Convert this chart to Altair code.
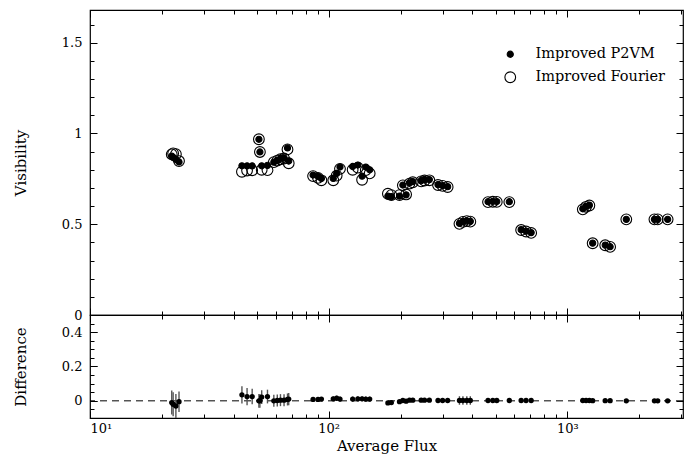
import altair as alt
import pandas as pd

# ---------------- data ----------------
flux = [22.0, 22.3, 22.9, 23.6,
        43.3, 45.5, 47.8, 51.0, 51.5, 52.4, 55.4, 58.9, 60.9, 62.8, 65.0, 67.2, 68.0,
        86.0, 90.2, 93.2,
        104.5, 108.0, 111.5, 126.0, 132.5, 138.0, 143.0, 148.5,
        177, 183, 198, 204.5, 211, 218, 225, 244, 252, 264,
        287, 300, 315,
        353, 365, 379, 392,
        465, 487, 506, 571,
        640, 671, 705,
        1160, 1197, 1236, 1276, 1440, 1510, 1765, 2315, 2390, 2630]
vis_p2vm = [0.875, 0.868, 0.857, 0.843,
            0.822, 0.821, 0.821, 0.968, 0.898, 0.822, 0.824, 0.842, 0.852, 0.862, 0.866, 0.920, 0.848,
            0.771, 0.764, 0.752,
            0.752, 0.780, 0.815, 0.818, 0.826, 0.765, 0.815, 0.800,
            0.655, 0.652, 0.655, 0.716, 0.662, 0.728, 0.735, 0.740, 0.745, 0.746,
            0.718, 0.713, 0.707,
            0.505, 0.515, 0.519, 0.516,
            0.624, 0.626, 0.625, 0.624,
            0.470, 0.462, 0.454,
            0.585, 0.598, 0.605, 0.396, 0.385, 0.376, 0.527, 0.527, 0.527, 0.527]
vis_fourier = [0.885, 0.890, 0.886, 0.848,
               0.789, 0.796, 0.797, 0.968, 0.898, 0.800, 0.798, 0.842, 0.850, 0.858, 0.862, 0.912, 0.836,
               0.765, 0.755, 0.742,
               0.742, 0.768, 0.805, 0.800, 0.812, 0.745, 0.798, 0.780,
               0.668, 0.660, 0.660, 0.714, 0.664, 0.724, 0.731, 0.736, 0.741, 0.742,
               0.716, 0.711, 0.705,
               0.502, 0.513, 0.517, 0.514,
               0.622, 0.624, 0.623, 0.622,
               0.468, 0.460, 0.452,
               0.582, 0.596, 0.603, 0.395, 0.384, 0.375, 0.527, 0.527, 0.527, 0.527]
diff = [-0.010, -0.020, -0.030, -0.005,
        0.035, 0.025, 0.025, 0.000, 0.000, 0.022, 0.025, 0.000, 0.002, 0.004, 0.004, 0.008, 0.010,
        0.008, 0.008, 0.010,
        0.012, 0.015, 0.010, 0.010, 0.012, 0.012, 0.010, 0.010,
        -0.012, -0.010, -0.005, 0.002, -0.002, 0.004, 0.004, 0.004, 0.004, 0.004,
        0.002, 0.002, 0.002,
        0.002, 0.002, 0.002, 0.002,
        0.002, 0.002, 0.002, 0.002,
        0.002, 0.002, 0.002,
        0.002, 0.002, 0.002, 0.001, 0.001, 0.001, 0.000, 0.000, 0.000, 0.000]
diff_err = [0.07, 0.07, 0.07, 0.06,
            0.05, 0.05, 0.045, 0.04, 0.04, 0.04, 0.04, 0.035, 0.035, 0.035, 0.035, 0.035, 0.035,
            0.012, 0.012, 0.012,
            0.015, 0.015, 0.015, 0.015, 0.015, 0.015, 0.015, 0.015,
            0.008, 0.008, 0.008, 0.008, 0.008, 0.008, 0.008, 0.008, 0.008, 0.008,
            0.006, 0.006, 0.006,
            0.025, 0.025, 0.025, 0.025,
            0.012, 0.012, 0.012, 0.008,
            0.006, 0.006, 0.006,
            0.005, 0.005, 0.005, 0.005, 0.005, 0.005, 0.005, 0.005, 0.005, 0.005]

series_names = ["Improved P2VM", "Improved Fourier"]
x_major = [10, 100, 1000]
x_major_labels = ["10¹", "10²", "10³"]
x_minor = [20, 30, 40, 50, 60, 70, 80, 90, 200, 300, 400, 500, 600, 700, 800, 900, 2000, 3000]
vis_major = [0, 0.5, 1, 1.5]
vis_minor = [0.1, 0.2, 0.3, 0.4, 0.6, 0.7, 0.8, 0.9, 1.1, 1.2, 1.3, 1.4, 1.6]
diff_major = [0, 0.2, 0.4]
diff_minor = [-0.05, 0.05, 0.1, 0.15, 0.25, 0.3, 0.35, 0.45]

# ---------------- tables ----------------
n = len(flux)
pts = pd.DataFrame({
    "flux": flux * 2,
    "vis": vis_fourier + vis_p2vm,
    "series": [series_names[1]] * n + [series_names[0]] * n,
    "idx": list(range(2 * n)),
})
dif = pd.DataFrame({
    "flux": flux,
    "diff": diff,
    "lo": [d - e for d, e in zip(diff, diff_err)],
    "hi": [d + e for d, e in zip(diff, diff_err)],
})
zero = pd.DataFrame({"d": [0.0]})

FONT = "DejaVu Serif"
MAJ, MIN = 7, 4
W = 593

xscale = alt.Scale(type="log", domain=[10, 3050], nice=False)
ytop = alt.Scale(domain=[0, 1.68], nice=False, zero=False)
ybot = alt.Scale(domain=[-0.1, 0.5], nice=False, zero=False)

label_expr = "''"
for v, s in reversed(list(zip(x_major, x_major_labels))):
    label_expr = f"datum.value == {v} ? '{s}' : ({label_expr})"


def ax(orient, values, size, **kw):
    opts = dict(orient=orient, values=values, tickSize=size, offset=-size,
                domain=False, grid=False, ticks=True, tickColor="black",
                tickWidth=1)
    if "labels" not in kw:
        opts["labels"] = False
    if "title" not in kw:
        opts["title"] = None
    opts.update(kw)
    return alt.Axis(**opts)


legend = alt.Legend(orient="none", legendX=413, legendY=37, title=None,
                    labelFont=FONT, labelFontSize=14.5, labelColor="black",
                    symbolStrokeWidth=1.1,
                    labelOffset=18, rowPadding=8, padding=0)

main = alt.Chart(pts).mark_point(strokeWidth=1.1, opacity=1).encode(
    x=alt.X("flux:Q", scale=xscale, axis=ax("bottom", x_major, MAJ)),
    y=alt.Y("vis:Q", scale=ytop,
            axis=ax("left", vis_major, MAJ, labels=True, format="~g",
                    labelPadding=8, title="Visibility", titlePadding=33)),
    fill=alt.Fill("series:N", scale=alt.Scale(domain=series_names, range=["black", "transparent"]),
                  legend=legend),
    stroke=alt.Stroke("series:N", scale=alt.Scale(domain=series_names, range=["black", "black"]),
                      legend=legend),
    size=alt.Size("series:N", scale=alt.Scale(domain=series_names, range=[38, 115]),
                  legend=legend),
    order=alt.Order("idx:Q"),
)


def axis_layer(data, xf, yf, yscale, xa, ya):
    return alt.Chart(data).mark_point(opacity=0).encode(
        x=alt.X(xf, scale=xscale, axis=xa),
        y=alt.Y(yf, scale=yscale, axis=ya),
    )


top = alt.layer(
    main,
    axis_layer(pts, "flux:Q", "vis:Q", ytop, ax("bottom", x_minor, MIN), ax("left", vis_minor, MIN)),
    axis_layer(pts, "flux:Q", "vis:Q", ytop, ax("top", x_major, MAJ), ax("right", vis_major, MAJ)),
    axis_layer(pts, "flux:Q", "vis:Q", ytop, ax("top", x_minor, MIN), ax("right", vis_minor, MIN)),
).resolve_axis(x="independent", y="independent").properties(width=W, height=305)

zero_rule = alt.Chart(zero).mark_rule(color="black", strokeWidth=1, strokeDash=[7, 5]).encode(
    y=alt.Y("d:Q", scale=ybot,
            axis=ax("left", diff_major, MAJ, labels=True, format="~g",
                    labelPadding=8, title="Difference", titlePadding=33)),
)
err = alt.Chart(dif).mark_rule(color="#555555", strokeWidth=1.4).encode(
    x=alt.X("flux:Q", scale=xscale,
            axis=ax("bottom", x_major, MAJ, labels=True, labelExpr=label_expr,
                    labelPadding=4, title="Average Flux", titlePadding=3)),
    y=alt.Y("lo:Q", scale=ybot, axis=ax("left", diff_minor, MIN)),
    y2="hi:Q",
)
dots = alt.Chart(dif).mark_circle(color="black", size=28, opacity=1).encode(
    x=alt.X("flux:Q", scale=xscale, axis=ax("bottom", x_minor, MIN)),
    y=alt.Y("diff:Q", scale=ybot, axis=ax("right", diff_major, MAJ)),
)
bot = alt.layer(
    zero_rule, err, dots,
    axis_layer(dif, "flux:Q", "diff:Q", ybot, ax("top", x_major, MAJ), ax("right", diff_minor, MIN)),
    axis_layer(dif, "flux:Q", "diff:Q", ybot, ax("top", x_minor, MIN), ax("left", diff_major, MAJ, labels=False)),
).resolve_axis(x="independent", y="independent").properties(width=W, height=103)

chart = alt.vconcat(top, bot, spacing=0, bounds="flush").properties(
    padding={"left": 4, "top": 0, "right": 5, "bottom": 0}
).configure_view(stroke="black", strokeWidth=1.2).configure_axis(
    labelFont=FONT, labelFontSize=13, labelColor="black",
    titleFont=FONT, titleFontSize=15, titleFontWeight="normal", titleColor="black",
)

chart.save("out.html", embed_options={"renderer": "svg", "actions": False})
